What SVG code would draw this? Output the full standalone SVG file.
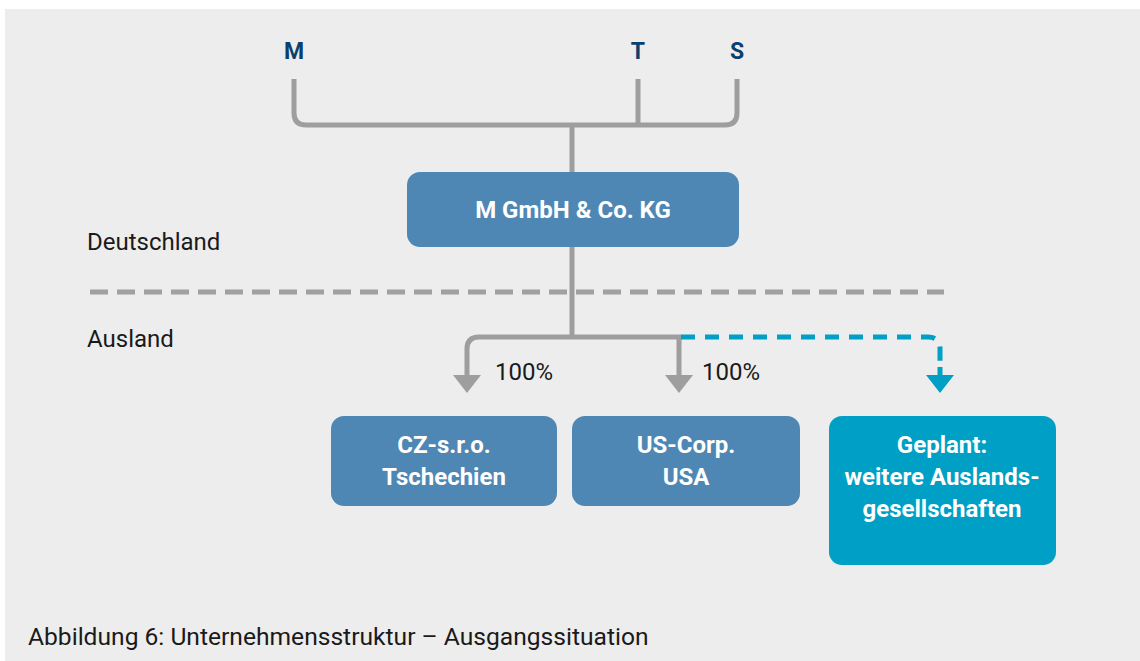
<svg xmlns="http://www.w3.org/2000/svg" width="1140" height="661" viewBox="0 0 1140 661">
<defs>
<style>
.bg{fill:#ededed}
.lbl{font-family:Roboto,"Liberation Sans",sans-serif;font-size:24px;fill:#1a1a1a}
.cap{font-family:Roboto,"Liberation Sans",sans-serif;font-size:24.6px;fill:#1a1a1a}
.top{font-family:Roboto,"Liberation Sans",sans-serif;font-size:23px;font-weight:bold;fill:#0b406e;text-anchor:middle}
.nt{font-family:Roboto,"Liberation Sans",sans-serif;font-size:24px;font-weight:bold;fill:#ffffff;text-anchor:middle}
.box{fill:#4f87b4}
.plan{fill:#009fc5}
.ln{fill:none;stroke:#9e9e9e;stroke-width:5}
.dash{fill:none;stroke:#a0a0a0;stroke-width:5;stroke-dasharray:18 9}
.bdash{fill:none;stroke:#00a0c6;stroke-width:5;stroke-dasharray:14 10}
.ag{fill:#9e9e9e}
.ab{fill:#00a0c6}
</style>
</defs>
<rect class="bg" x="5" y="9" width="1135" height="652"/>
<text class="top" x="294" y="59">M</text>
<text class="top" x="638" y="59">T</text>
<text class="top" x="737" y="59">S</text>
<text class="lbl" x="87" y="250">Deutschland</text>
<text class="lbl" x="87" y="347">Ausland</text>
<g id="connectors">
<path class="ln" d="M294,79 V113 Q294,125 306,125 H725 Q737,125 737,113 V79"/>
<path class="ln" d="M638,79 V125"/>
<path class="ln" d="M572,125 V172"/>
<path class="ln" d="M572,247 V337"/>
<path class="dash" d="M90,292 H944"/>
<path class="ln" d="M467,377 V349 Q467,337 479,337 H679 V377"/>
<polygon class="ag" points="453,375 481,375 467,393"/>
<polygon class="ag" points="665,375 693,375 679,393"/>
<path class="bdash" d="M681,337 H928 Q940,337 940,349 V362"/>
<path d="M940,367 V377" stroke="#00a0c6" stroke-width="5"/>
<polygon class="ab" points="926,375 954,375 940,393"/>
<text class="lbl" x="495" y="380">100%</text>
<text class="lbl" x="702" y="380">100%</text>
</g>
<g id="node-kg">
<rect class="box" x="407" y="172" width="332" height="75" rx="13"/>
<text class="nt" x="573" y="218">M GmbH &amp; Co. KG</text>
</g>
<g id="node-cz">
<rect class="box" x="331" y="416" width="226" height="90" rx="13"/>
<text class="nt" x="444" y="453">CZ-s.r.o.</text>
<text class="nt" x="444" y="485">Tschechien</text>
</g>
<g id="node-us">
<rect class="box" x="572" y="416" width="228" height="90" rx="13"/>
<text class="nt" x="686" y="453">US-Corp.</text>
<text class="nt" x="686" y="485">USA</text>
</g>
<g id="node-plan">
<rect class="plan" x="829" y="416" width="227" height="149" rx="13"/>
<text class="nt" x="942" y="453">Geplant:</text>
<text class="nt" x="942" y="485">weitere Auslands-</text>
<text class="nt" x="942" y="517">gesellschaften</text>
</g>
<text class="cap" x="28" y="645">Abbildung 6: Unternehmensstruktur – Ausgangssituation</text>
</svg>
